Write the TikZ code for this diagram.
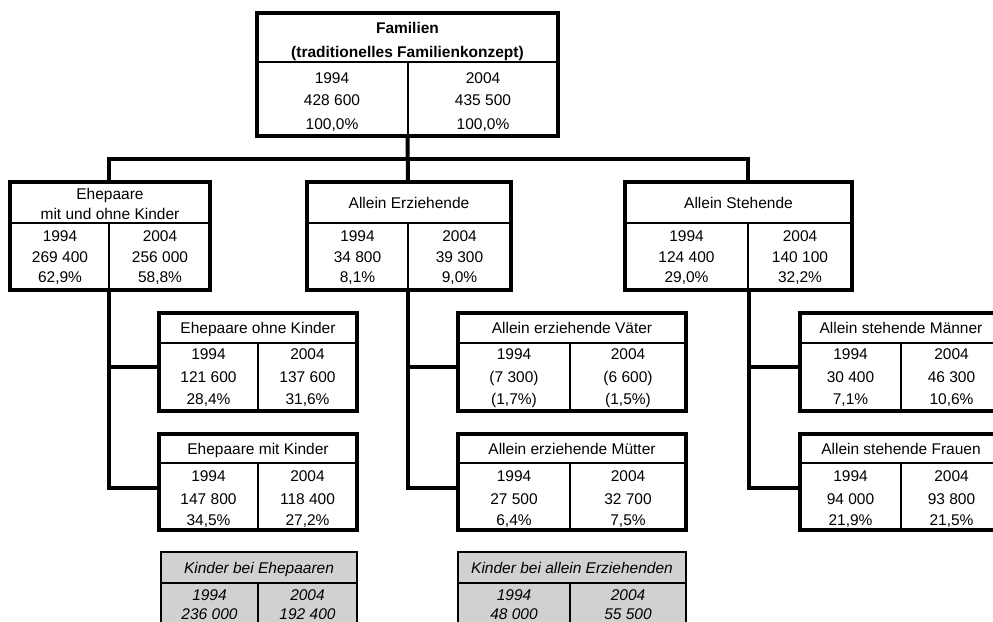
\documentclass[tikz,border=0pt]{standalone}
\usepackage{fontspec}
\setmainfont{Liberation Sans}
\newcommand\fs{\fontsize{15.5}{18}\selectfont}
\tikzset{
  boxstyle/.style={draw=black, line width=4pt, fill=white, inner sep=0pt},
  graystyle/.style={draw=black, line width=2.6pt, fill=black!18, inner sep=0pt},
  innerline/.style={line width=2pt},
  conn/.style={line width=4pt},
  txt/.style={inner sep=0pt, text height=11.1pt, text depth=0pt, font=\fs},
}
% name, left, right, divider, top, separator, bottom, style
\newcommand\databox[8]{%
  \node[#8, minimum width={(#3)-(#2)}, minimum height={(#7)-(#5)}] (#1) at ({((#2)+(#3))/2},{((#5)+(#7))/2}) {};
  \draw[innerline] (#2,#6) -- (#3,#6) (#4,#6) -- (#4,#7);
}
% name, x, y1, y2, y3, t1, t2, t3
\newcommand\tcol[8]{%
  \node[txt] (#1a) at (#2,#3) {#6};
  \node[txt] (#1b) at (#2,#4) {#7};
  \node[txt] (#1c) at (#2,#5) {#8};
}
\begin{document}
\begin{tikzpicture}[x=1pt,y=-1pt]
\useasboundingbox (0,0) rectangle (993,621);
\clip (0,0) rectangle (993,621);

% coordinates for connectors
\coordinate (B1t) at (109,182);
\coordinate (B2t) at (408,182);
\coordinate (B3t) at (748,182);
\coordinate (bar) at (408,159);
\coordinate (B1b) at (109,290);
\coordinate (B2b) at (408,290);
\coordinate (B3b) at (749,290);
\coordinate (S1ain) at (159,367);
\coordinate (S1bin) at (159,488);
\coordinate (S2ain) at (458,367);
\coordinate (S2bin) at (458,488);
\coordinate (S3ain) at (800,367);
\coordinate (S3bin) at (800,488);

% connectors
\draw[conn] (B1t) |- (bar) -| (B3t);
\draw[conn] (B1b) |- (S1bin);
\draw[conn] (B1b |- S1ain) -- (S1ain);
\draw[conn] (B2b) |- (S2bin);
\draw[conn] (B2b |- S2ain) -- (S2ain);
\draw[conn] (B3b) |- (S3bin);
\draw[conn] (B3b |- S3ain) -- (S3ain);

% top box
\databox{T}{257}{558}{407.5}{13}{62}{136}{boxstyle}
\draw[conn] (T.south) -- (B2t);
\node[txt, font=\fs\bfseries] (Th1) at (407.5,28.3) {Familien};
\node[txt, font=\fs\bfseries] (Th2) at (407.5,52) {(traditionelles Familienkonzept)};
\tcol{Tl}{332}{78}{99.7}{124}{1994}{428 600}{100,0\%}
\tcol{Tr}{483}{78}{99.7}{124}{2004}{435 500}{100,0\%}

% level 2
\databox{B1}{10}{210}{109}{182}{223}{290}{boxstyle}
\node[txt] (B1h1) at (110,194) {Ehepaare};
\node[txt] (B1h2) at (110,213.7) {mit und ohne Kinder};
\tcol{B1l}{60}{235.5}{257}{277}{1994}{269 400}{62,9\%}
\tcol{B1r}{160}{235.5}{257}{277}{2004}{256 000}{58,8\%}

\databox{B2}{307}{511}{408}{182}{223}{290}{boxstyle}
\node[txt] (B2h) at (409,203) {Allein Erziehende};
\tcol{B2l}{357.5}{235.5}{257}{277}{1994}{34 800}{8,1\%}
\tcol{B2r}{459.5}{235.5}{257}{277}{2004}{39 300}{9,0\%}

\databox{B3}{625}{852}{748}{182}{223}{290}{boxstyle}
\node[txt] (B3h) at (738.5,203) {Allein Stehende};
\tcol{B3l}{686.5}{235.5}{257}{277}{1994}{124 400}{29,0\%}
\tcol{B3r}{800}{235.5}{257}{277}{2004}{140 100}{32,2\%}

% sub boxes row 1
\databox{S1a}{159}{357}{258}{313}{343}{411}{boxstyle}
\node[txt] (S1ah) at (258,328) {Ehepaare ohne Kinder};
\tcol{S1al}{208.5}{354}{377}{398.5}{1994}{121 600}{28,4\%}
\tcol{S1ar}{307.5}{354}{377}{398.5}{2004}{137 600}{31,6\%}

\databox{S2a}{458}{686}{570}{313}{343}{411}{boxstyle}
\node[txt] (S2ah) at (572,328) {Allein erziehende Väter};
\tcol{S2al}{514}{354}{377}{398.5}{1994}{(7 300)}{(1,7\%)}
\tcol{S2ar}{628}{354}{377}{398.5}{2004}{(6 600)}{(1,5\%)}

\databox{S3a}{800}{1002}{901}{313}{343}{411}{boxstyle}
\node[txt] (S3ah) at (901,328) {Allein stehende Männer};
\tcol{S3al}{850.5}{354}{377}{398.5}{1994}{30 400}{7,1\%}
\tcol{S3ar}{951.5}{354}{377}{398.5}{2004}{46 300}{10,6\%}

% sub boxes row 2
\databox{S1b}{159}{357}{258}{434}{463}{530}{boxstyle}
\node[txt] (S1bh) at (258,449) {Ehepaare mit Kinder};
\tcol{S1bl}{208.5}{476}{498.5}{520}{1994}{147 800}{34,5\%}
\tcol{S1br}{307.5}{476}{498.5}{520}{2004}{118 400}{27,2\%}

\databox{S2b}{458}{686}{570}{434}{463}{530}{boxstyle}
\node[txt] (S2bh) at (572,449) {Allein erziehende Mütter};
\tcol{S2bl}{514}{476}{498.5}{520}{1994}{27 500}{6,4\%}
\tcol{S2br}{628}{476}{498.5}{520}{2004}{32 700}{7,5\%}

\databox{S3b}{800}{1002}{901}{434}{463}{530}{boxstyle}
\node[txt] (S3bh) at (901,449) {Allein stehende Frauen};
\tcol{S3bl}{850.5}{476}{498.5}{520}{1994}{94 000}{21,9\%}
\tcol{S3br}{951.5}{476}{498.5}{520}{2004}{93 800}{21,5\%}

% gray boxes
\begin{scope}[txt/.append style={font=\fs\itshape}]
\databox{G1}{161}{357}{258}{552}{583}{660}{graystyle}
\node[txt] (G1h) at (259,568) {Kinder bei Ehepaaren};
\node[txt] (G1la) at (209.5,594.5) {1994};
\node[txt] (G1lb) at (209.5,613.5) {236 000};
\node[txt] (G1ra) at (307.5,594.5) {2004};
\node[txt] (G1rb) at (307.5,613.5) {192 400};

\databox{G2}{458}{686}{570}{552}{583}{660}{graystyle}
\node[txt] (G2h) at (572,568) {Kinder bei allein Erziehenden};
\node[txt] (G2la) at (514,594.5) {1994};
\node[txt] (G2lb) at (514,613.5) {48 000};
\node[txt] (G2ra) at (628,594.5) {2004};
\node[txt] (G2rb) at (628,613.5) {55 500};
\end{scope}
\end{tikzpicture}
\end{document}
